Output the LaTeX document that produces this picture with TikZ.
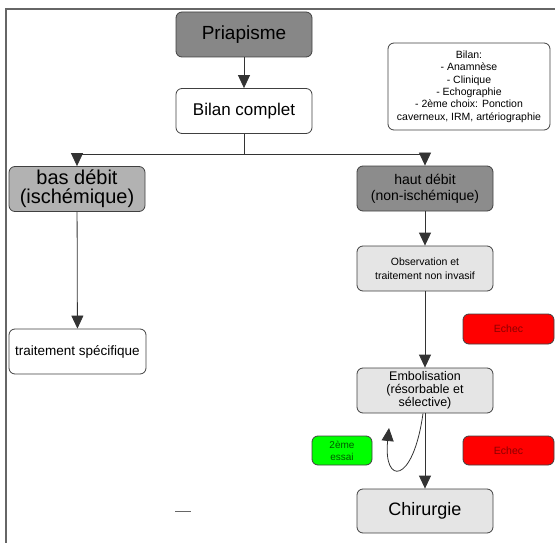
\documentclass[tikz,border=0pt]{standalone}
\usepackage{fontspec}
\setmainfont{Liberation Sans}
\usetikzlibrary{arrows.meta}

\begin{document}
\begin{tikzpicture}
      [x=1pt, y=1pt,
      box/.style={draw=black!75, line width=0.8pt, rounded corners=6pt, align=center,
        inner sep=1pt, minimum width=136pt, minimum height=45pt},
      note/.style={box, minimum width=91pt, minimum height=30pt, fill=red},
      flow/.style={draw=black!80, line width=0.8pt, -{Triangle[length=13pt,width=12pt]}},
      ]
      \useasboundingbox (0,0) rectangle (555,-543);
      \draw[black!60, line width=1.5pt] (6,-543) -- (6,-9) -- (555,-9);

      \node[box, fill=black!47, font=\fontsize{19}{22}\selectfont] (prio) at (244,-34.5) {Priapisme};
      \node[box, fill=white, font=\fontsize{17}{20}\selectfont] (bilan) at (244,-111) {Bilan complet};
      \node[box, fill=white, minimum width=162pt, minimum height=87pt,
        font=\fontsize{10.5}{12.4}\selectfont] (info) at (469,-86.5)
        {Bilan:\\- Anamnèse\\- Clinique\\- Echographie\\- 2ème choix: Ponction\\caverneux, IRM, artériographie};
      \node[box, fill=black!30, font=\fontsize{20}{19}\selectfont] (bas) at (77,-189) {bas débit\\(ischémique)};
      \node[box, fill=black!45, font=\fontsize{14}{16}\selectfont] (haut) at (425,-188.5) {haut débit\\(non-ischémique)};
      \node[box, fill=black!10, font=\fontsize{10.5}{14}\selectfont] (obs) at (425,-268.5) {Observation et\\traitement non invasif};
      \node[box, fill=white, minimum width=137pt, font=\fontsize{13.5}{16}\selectfont] (spec) at (77.5,-351.5) {traitement spécifique};
      \node[box, fill=black!10, font=\fontsize{12.5}{13}\selectfont] (emb) at (425,-390.5) {Embolisation\\(résorbable et\\sélective)};
      \node[box, fill=black!10, minimum height=44pt, font=\fontsize{18}{21}\selectfont] (chir) at (425,-511) {Chirurgie};
      \node[note, text=red!55!black, font=\fontsize{10.5}{12}\selectfont] (echec1) at (508.5,-329) {Echec};
      \node[note, minimum height=29pt, text=red!55!black, font=\fontsize{10.5}{12}\selectfont] (echec2) at (508.5,-450.5) {Echec};
      \node[note, minimum width=60pt, minimum height=29pt, fill=green, text=green!35!black,
        font=\fontsize{10}{12}\selectfont] (essai) at (342,-450.5) {2ème\\essai};
      \coordinate (back) at (389,-428);

      \draw[flow] (prio) -- (bilan);
      \draw[flow] (bilan.south) -- ++(0,-20) -| (bas.north);
      \draw[flow] (bilan.south) -- ++(0,-20) -| (haut.north);
      \draw[flow] (bas) -- (spec);
      \draw[flow] (haut) -- (obs);
      \draw[flow] (obs) -- (emb);
      \draw[flow] (emb) -- (chir);
      \draw[flow] ([xshift=-2pt]emb.south) .. controls +(-10,-72) and +(-6,-57) .. (back);
      \draw[black!60, line width=0.8pt] (175,-511) -- (191,-511);
    \end{tikzpicture}
\end{document}
